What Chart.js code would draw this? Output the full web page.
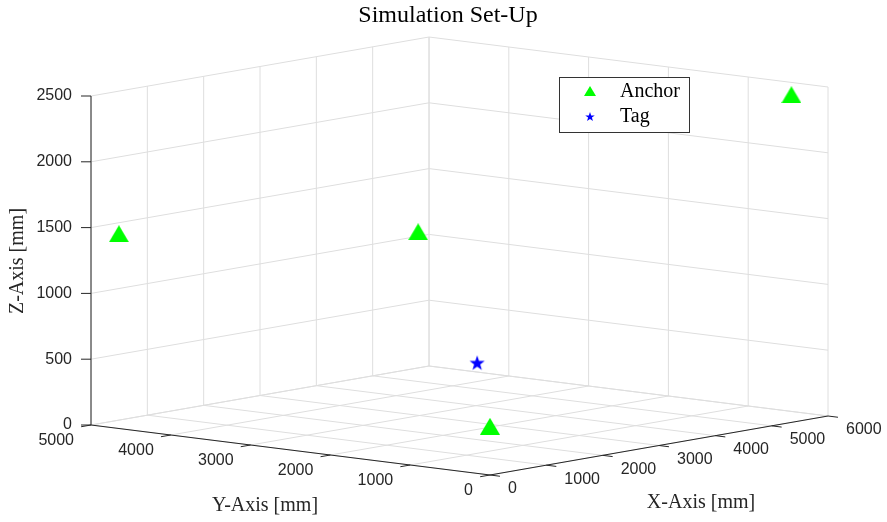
<!DOCTYPE html>
<html>
<head>
<meta charset="utf-8">
<script src="https://cdn.jsdelivr.net/npm/chart.js@4.4.0/dist/chart.umd.min.js"></script>
<style>
  html, body { margin: 0; padding: 0; background: #fff; }
  #wrap { width: 887px; height: 522px; position: relative; }
</style>
</head>
<body>
<div id="wrap"><canvas id="myChart"></canvas></div>
<script>
'use strict';

// axis ticks (mm)
const xTicks = [0, 1000, 2000, 3000, 4000, 5000, 6000];
const yTicks = [0, 1000, 2000, 3000, 4000, 5000];
const zTicks = [0, 500, 1000, 1500, 2000, 2500];

// anchor positions (mm)
const anchorX = [0, 0, 5350, 0];
const anchorY = [4650, 900, 0, 0];
const anchorZ = [1480, 1780, 2490, 370];

// tag position (mm)
const tagX = [650];
const tagY = [620];
const tagZ = [760];

const xMax = 6000, yMax = 5000, zMax = 2500;

// orthographic view of the box, in page units (fitted to the picture)
const view = {ox: 490, oy: 475, xu: 338 / 6000, xv: -59 / 6000, yu: -399 / 5000, yv: -50 / 5000, zv: -329 / 2500};

function project(x, y, z) {
  return {x: view.ox + x * view.xu + y * view.yu, y: view.oy + x * view.xv + y * view.yv + z * view.zv};
}

function makeTriangle(w, h, color) {
  const c = document.createElement('canvas');
  c.width = w; c.height = h;
  const g = c.getContext('2d');
  g.fillStyle = color;
  g.beginPath();
  g.moveTo(w / 2, 0);
  g.lineTo(w, h);
  g.lineTo(0, h);
  g.closePath();
  g.fill();
  return c;
}

function makeStar(r, color) {
  const size = Math.ceil(r * 2) + 2;
  const c = document.createElement('canvas');
  c.width = size; c.height = size;
  const g = c.getContext('2d');
  g.fillStyle = color;
  g.beginPath();
  for (let i = 0; i < 10; i++) {
    const rad = (i % 2 === 0) ? r : r * 0.4;
    const a = -Math.PI / 2 + i * Math.PI / 5;
    const px = size / 2 + Math.cos(a) * rad;
    const py = size / 2 + 1 + Math.sin(a) * rad;
    if (i === 0) g.moveTo(px, py); else g.lineTo(px, py);
  }
  g.closePath();
  g.fill();
  return c;
}

const triBig = makeTriangle(20, 17, '#00ff00');
const starBig = makeStar(8, '#0000ff');
const triSmall = makeTriangle(12, 10, '#00ff00');
const starSmall = makeStar(5, '#0000ff');

const gridColor = '#dedede';
const axisColor = '#262626';
const serif = '"Liberation Serif", "DejaVu Serif", serif';
const sans = '"Liberation Sans", Arial, sans-serif';

const box3d = {
  id: 'box3d',
  beforeDatasetsDraw(chart) {
    const ctx = chart.ctx;
    const sx = chart.scales.x, sy = chart.scales.y;
    const pt = (x, y, z) => {
      const p = project(x, y, z);
      return [sx.getPixelForValue(p.x), sy.getPixelForValue(p.y)];
    };
    const seg = (a, b) => {
      ctx.beginPath();
      ctx.moveTo(a[0], a[1]);
      ctx.lineTo(b[0], b[1]);
      ctx.stroke();
    };

    ctx.save();
    ctx.lineWidth = 1;
    ctx.strokeStyle = gridColor;
    xTicks.forEach(x => {
      seg(pt(x, 0, 0), pt(x, yMax, 0));
      seg(pt(x, yMax, 0), pt(x, yMax, zMax));
    });
    yTicks.forEach(y => {
      seg(pt(0, y, 0), pt(xMax, y, 0));
      seg(pt(xMax, y, 0), pt(xMax, y, zMax));
    });
    zTicks.forEach(z => {
      seg(pt(0, yMax, z), pt(xMax, yMax, z));
      seg(pt(xMax, yMax, z), pt(xMax, 0, z));
    });

    // axes
    ctx.strokeStyle = axisColor;
    seg(pt(0, yMax, 0), pt(0, yMax, zMax));
    seg(pt(0, yMax, 0), pt(0, 0, 0));
    seg(pt(0, 0, 0), pt(xMax, 0, 0));

    ctx.fillStyle = axisColor;
    ctx.font = '16px ' + sans;

    // z ticks and labels
    ctx.textAlign = 'right';
    ctx.textBaseline = 'middle';
    zTicks.forEach(z => {
      const p = pt(0, yMax, z);
      seg(p, [p[0] - 10, p[1]]);
      ctx.fillText(String(z), p[0] - 19, p[1]);
    });
    // y ticks and labels
    yTicks.forEach(y => {
      const p = pt(0, y, 0);
      seg(p, pt(-175, y, 0));
      ctx.fillText(String(y), p[0] - 17, p[1] + 16);
    });
    // x ticks and labels
    ctx.textAlign = 'left';
    xTicks.forEach(x => {
      const p = pt(x, 0, 0);
      seg(p, pt(x, -125, 0));
      ctx.fillText(String(x), p[0] + 18, p[1] + 14);
    });

    // axis titles
    ctx.textAlign = 'center';
    ctx.font = '20px ' + serif;
    ctx.fillText('Y-Axis [mm]', 265, 506);
    ctx.fillText('X-Axis [mm]', 701, 503);
    ctx.save();
    ctx.translate(18, 261);
    ctx.rotate(-Math.PI / 2);
    ctx.fillText('Z-Axis [mm]', 0, 0);
    ctx.restore();

    ctx.fillStyle = '#000';
    ctx.font = '24px ' + serif;
    ctx.fillText('Simulation Set-Up', 448, 16);
    ctx.restore();
  },
  afterDatasetsDraw(chart) {
    const ctx = chart.ctx;
    ctx.save();
    ctx.fillStyle = '#fff';
    ctx.fillRect(559, 77, 130, 55);
    ctx.strokeStyle = '#333';
    ctx.lineWidth = 1;
    ctx.strokeRect(559.5, 77.5, 130, 55);
    const items = [
      {img: triSmall, text: chart.data.datasets[0].label, y: 91},
      {img: starSmall, text: chart.data.datasets[1].label, y: 116}
    ];
    ctx.fillStyle = '#000';
    ctx.font = '20px ' + serif;
    ctx.textAlign = 'left';
    ctx.textBaseline = 'middle';
    items.forEach(it => {
      ctx.drawImage(it.img, 590 - it.img.width / 2, it.y - it.img.height / 2);
      ctx.fillText(it.text, 620, it.y + 1);
    });
    ctx.restore();
  }
};

const anchorPts = anchorX.map((x, i) => project(x, anchorY[i], anchorZ[i]));
const tagPts = tagX.map((x, i) => project(x, tagY[i], tagZ[i]));

new Chart(document.getElementById('myChart'), {
  type: 'scatter',
  data: {
    datasets: [{
      label: 'Anchor',
      data: anchorPts,
      pointStyle: triBig,
      pointRadius: 10,
      clip: false
    }, {
      label: 'Tag',
      data: tagPts,
      pointStyle: starBig,
      pointRadius: 8,
      clip: false
    }]
  },
  options: {
    responsive: true,
    maintainAspectRatio: false,
    animation: false,
    events: [],
    layout: {padding: 0, autoPadding: false},
    scales: {
      x: {type: 'linear', display: false, min: 0, max: 887},
      y: {type: 'linear', display: false, min: 0, max: 522, reverse: true}
    },
    plugins: {
      legend: {display: false},
      tooltip: {enabled: false}
    }
  },
  plugins: [box3d]
});
</script>
</body>
</html>
